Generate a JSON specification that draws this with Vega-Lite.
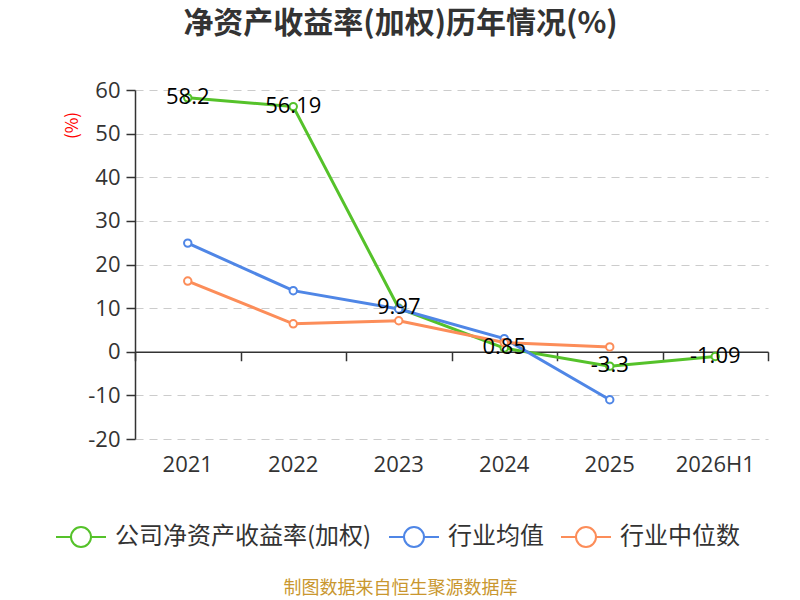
{
  "$schema": "https://vega.github.io/schema/vega-lite/v6.json",
  "width": 633,
  "height": 349,
  "autosize": "none",
  "padding": {"left": 135, "top": 90, "right": 32, "bottom": 161},
  "background": "white",
  "config": {
    "view": {"stroke": null},
    "font": "Noto Sans CJK SC"
  },
  "title": {
    "text": "净资产收益率(加权)历年情况(%)",
    "fontSize": 30,
    "fontWeight": "bold",
    "color": "#333333",
    "anchor": "middle",
    "frame": "group",
    "dx": -51,
    "baseline": "alphabetic",
    "offset": 16
  },
  "data": {
    "values": [
      {"year": "2021", "series": "公司净资产收益率(加权)", "value": 58.2},
      {"year": "2022", "series": "公司净资产收益率(加权)", "value": 56.19},
      {"year": "2023", "series": "公司净资产收益率(加权)", "value": 9.97},
      {"year": "2024", "series": "公司净资产收益率(加权)", "value": 0.85},
      {"year": "2025", "series": "公司净资产收益率(加权)", "value": -3.3},
      {"year": "2026H1", "series": "公司净资产收益率(加权)", "value": -1.09},
      {"year": "2021", "series": "行业均值", "value": 24.9},
      {"year": "2022", "series": "行业均值", "value": 14.0},
      {"year": "2023", "series": "行业均值", "value": 9.8},
      {"year": "2024", "series": "行业均值", "value": 3.0},
      {"year": "2025", "series": "行业均值", "value": -11.0},
      {"year": "2021", "series": "行业中位数", "value": 16.2},
      {"year": "2022", "series": "行业中位数", "value": 6.4},
      {"year": "2023", "series": "行业中位数", "value": 7.1},
      {"year": "2024", "series": "行业中位数", "value": 2.1},
      {"year": "2025", "series": "行业中位数", "value": 1.1}
    ]
  },
  "resolve": {"axis": {"x": "independent"}},
  "layer": [
    {
      "mark": {"type": "line", "strokeWidth": 3},
      "encoding": {
        "x": {
          "field": "year", "type": "nominal", "bandPosition": 0.5,
          "sort": ["2021", "2022", "2023", "2024", "2025", "2026H1"],
          "scale": {"type": "band", "paddingInner": 0, "paddingOuter": 0},
          "axis": {
            "orient": "bottom",
            "domain": false, "ticks": false, "grid": false,
            "labelAngle": 0, "labelFontSize": 22, "labelFont": "Open Sans", "labelColor": "#333333",
            "labelPadding": 15,
            "title": "制图数据来自恒生聚源数据库",
            "titleFontSize": 18, "titleFontWeight": "normal", "titleColor": "#c9972f",
            "titleX": 265, "titleY": 149, "titleBaseline": "middle", "titleAlign": "center"
          }
        },
        "y": {
          "field": "value", "type": "quantitative",
          "scale": {"domain": [-20, 60], "nice": false},
          "axis": {
            "values": [-20, -10, 0, 10, 20, 30, 40, 50, 60],
            "labelExpr": "'' + datum.value",
            "domain": true, "domainColor": "#333333", "domainWidth": 1.5,
            "ticks": true, "tickColor": "#333333", "tickSize": 9, "tickWidth": 1.5,
            "labelFontSize": 22, "labelFont": "Open Sans", "labelColor": "#333333", "labelPadding": 6,
            "grid": true, "gridColor": "#cccccc", "gridDash": [8, 6], "gridWidth": 1.2,
            "title": "(%)", "titleColor": "#ff0000", "titleFontSize": 17, "titleFontWeight": "normal",
            "titleX": -63, "titleY": 35, "titleAngle": -90, "titleAlign": "center", "titleBaseline": "middle"
          }
        },
        "color": {
          "field": "series", "type": "nominal",
          "scale": {
            "domain": ["公司净资产收益率(加权)", "行业均值", "行业中位数"],
            "range": ["#55c22a", "#4f86e6", "#fc8d59"]
          },
          "legend": {
            "orient": "none", "direction": "horizontal", "columns": 3,
            "legendX": -80, "legendY": 421,
            "title": null,
            "symbolType": "M-1,0H-0.4A0.4,0.4 0 1,1 0.4,0A0.4,0.4 0 1,1 -0.4,0M0.4,0H1",
            "symbolSize": 2500, "symbolStrokeWidth": 2, "symbolFillColor": "white",
            "labelFontSize": 24, "labelColor": "#333333", "labelOffset": 8, "labelLimit": 400,
            "columnPadding": 13
          }
        }
      }
    },
    {
      "mark": {"type": "point", "filled": false, "fill": "white", "fillOpacity": 1, "opacity": 1, "strokeWidth": 2, "size": 55},
      "encoding": {
        "x": {
          "field": "year", "type": "nominal", "bandPosition": 0.5,
          "sort": ["2021", "2022", "2023", "2024", "2025", "2026H1"],
          "axis": {
            "orient": "bottom", "offset": -87.25,
            "labels": false, "grid": false, "title": null,
            "domain": true, "domainColor": "#333333", "domainWidth": 1.5,
            "ticks": true, "tickBand": "extent", "tickSize": 9, "tickColor": "#333333", "tickWidth": 1.5
          }
        },
        "y": {"field": "value", "type": "quantitative"},
        "color": {"field": "series", "type": "nominal", "legend": null}
      }
    },
    {
      "transform": [{"filter": "datum.series === '公司净资产收益率(加权)'"}],
      "mark": {"type": "text", "fontSize": 22, "font": "Open Sans", "color": "#000000", "baseline": "middle", "align": "center", "dy": -1},
      "encoding": {
        "x": {"field": "year", "type": "nominal", "bandPosition": 0.5, "sort": ["2021", "2022", "2023", "2024", "2025", "2026H1"], "axis": null},
        "y": {"field": "value", "type": "quantitative"},
        "text": {"field": "value", "type": "nominal"}
      }
    }
  ]
}
